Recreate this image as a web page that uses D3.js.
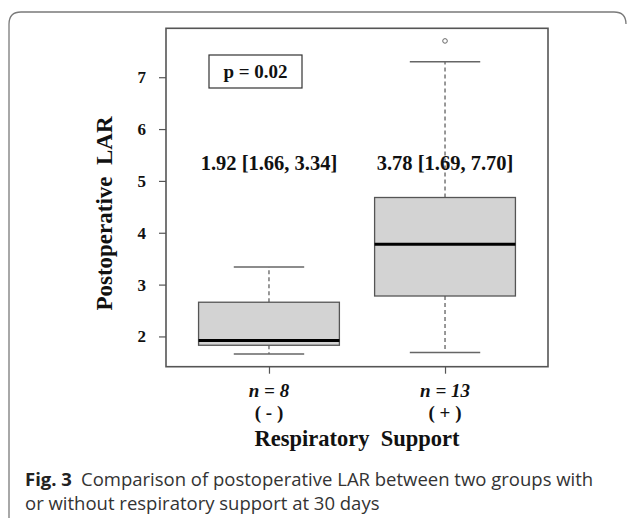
<!DOCTYPE html>
<html>
<head>
<meta charset="utf-8">
<script src="https://cdn.jsdelivr.net/npm/d3@7"></script>
<style>
  body { margin: 0; background: #fff; }
  svg { display: block; }
</style>
</head>
<body>
<div id="chart"></div>
<script>
// group data
const groups = ['(-)', '(+)'];
const groupLabels = ['( - )', '( + )'];
const nLabels = ['n = 8', 'n = 13'];
const lowWhisker = [1.66, 1.69];
const q1 = [1.83, 2.78];
const median = [1.92, 3.78];
const q3 = [2.66, 4.68];
const highWhisker = [3.34, 7.30];
const outliers = [[], [7.70]];
const statText = ['1.92 [1.66, 3.34]', '3.78 [1.69, 7.70]'];
const yTicks = [2, 3, 4, 5, 6, 7];

const width = 627, height = 523;
const plot = { left: 166, right: 548, top: 28.3, bottom: 366.7 };

const svg = d3.select('#chart').append('svg')
  .attr('width', width)
  .attr('height', height);

// card frame
svg.append('path')
  .attr('d', 'M9,' + (height - 5) + ' L9,24 Q9,12 21,12 L614,12 Q626,12 626,24')
  .attr('fill', 'none')
  .attr('stroke', '#7a7a7a')
  .attr('stroke-width', 1.3);

const x = d3.scaleLinear().domain([0.415, 2.585]).range([plot.left, plot.right]);
const y = d3.scaleLinear().domain([1.4164, 7.9436]).range([plot.bottom, plot.top]);

const serif = '"Liberation Serif", "Times New Roman", serif';

// y axis ticks
const yAxis = svg.append('g')
  .attr('transform', 'translate(' + plot.left + ',0)')
  .call(d3.axisLeft(y).tickValues(yTicks).tickSize(7).tickFormat(''));
yAxis.select('.domain').remove();
yAxis.selectAll('line').attr('stroke', '#555').attr('stroke-width', 1.2);

// y tick labels
svg.selectAll('.ylab')
  .data(yTicks)
  .enter().append('text')
  .attr('class', 'ylab')
  .attr('x', 146)
  .attr('y', d => y(d) + 6)
  .attr('text-anchor', 'end')
  .style('font-family', serif).style('font-weight', 'bold').style('font-size', '17px')
  .attr('fill', '#111')
  .text(d => d);

// x axis ticks
const xAxis = svg.append('g')
  .attr('transform', 'translate(0,' + plot.bottom + ')')
  .call(d3.axisBottom(x).tickValues([1, 2]).tickSize(7).tickFormat(''));
xAxis.select('.domain').remove();
xAxis.selectAll('line').attr('stroke', '#555').attr('stroke-width', 1.2);

// plot frame
svg.append('rect')
  .attr('x', plot.left)
  .attr('y', plot.top)
  .attr('width', plot.right - plot.left)
  .attr('height', plot.bottom - plot.top)
  .attr('fill', 'none')
  .attr('stroke', '#555')
  .attr('stroke-width', 1.6);

const boxW = x(1.4) - x(1);

groups.forEach(function (g, i) {
  const cx = x(i + 1);
  const grp = svg.append('g');

  // whiskers
  grp.append('line')
    .attr('x1', cx).attr('x2', cx)
    .attr('y1', y(q3[i])).attr('y2', y(highWhisker[i]))
    .attr('stroke', '#555').attr('stroke-width', 1.2)
    .attr('stroke-dasharray', '4,3');
  grp.append('line')
    .attr('x1', cx).attr('x2', cx)
    .attr('y1', y(q1[i])).attr('y2', y(lowWhisker[i]))
    .attr('stroke', '#555').attr('stroke-width', 1.2)
    .attr('stroke-dasharray', '4,3');

  [lowWhisker[i], highWhisker[i]].forEach(function (v) {
    grp.append('line')
      .attr('x1', cx - boxW / 2).attr('x2', cx + boxW / 2)
      .attr('y1', y(v)).attr('y2', y(v))
      .attr('stroke', '#666').attr('stroke-width', 1.5);
  });

  // box
  grp.append('rect')
    .attr('x', cx - boxW)
    .attr('y', y(q3[i]))
    .attr('width', boxW * 2)
    .attr('height', y(q1[i]) - y(q3[i]))
    .attr('fill', '#d3d3d3')
    .attr('stroke', '#555')
    .attr('stroke-width', 1.3);

  grp.append('line')
    .attr('x1', cx - boxW).attr('x2', cx + boxW)
    .attr('y1', y(median[i])).attr('y2', y(median[i]))
    .attr('stroke', '#000').attr('stroke-width', 3);

  outliers[i].forEach(function (v) {
    grp.append('circle')
      .attr('cx', cx).attr('cy', y(v)).attr('r', 2.3)
      .attr('fill', 'none').attr('stroke', '#666').attr('stroke-width', 1);
  });

  // stats text
  svg.append('text')
    .attr('x', cx).attr('y', 170)
    .attr('text-anchor', 'middle')
    .style('font-family', serif).style('font-weight', 'bold').style('font-size', '20.5px')
    .attr('fill', '#111')
    .text(statText[i]);

  // n labels
  svg.append('text')
    .attr('x', cx).attr('y', 397)
    .attr('text-anchor', 'middle')
    .style('font-family', serif).style('font-weight', 'bold').style('font-style', 'italic')
    .style('font-size', '19px')
    .attr('fill', '#111')
    .text(nLabels[i]);

  svg.append('text')
    .attr('x', cx).attr('y', 419)
    .attr('text-anchor', 'middle')
    .style('font-family', serif).style('font-weight', 'bold').style('font-size', '19px')
    .attr('fill', '#111')
    .text(groupLabels[i]);
});

// p value box
svg.append('rect')
  .attr('x', 209).attr('y', 55)
  .attr('width', 93).attr('height', 33)
  .attr('fill', 'none').attr('stroke', '#333').attr('stroke-width', 1.2);
svg.append('text')
  .attr('x', 255.5).attr('y', 78)
  .attr('text-anchor', 'middle')
  .style('font-family', serif).style('font-weight', 'bold').style('font-size', '19px')
  .attr('fill', '#111')
  .text('p = 0.02');

// axis titles
svg.append('text')
  .attr('transform', 'translate(112,' + ((plot.top + plot.bottom) / 2 + 16) + ') rotate(-90)')
  .attr('text-anchor', 'middle')
  .style('font-family', serif).style('font-weight', 'bold').style('font-size', '23px')
  .attr('fill', '#111')
  .text('Postoperative\u00a0\u00a0LAR');

svg.append('text')
  .attr('x', (plot.left + plot.right) / 2).attr('y', 446)
  .attr('text-anchor', 'middle')
  .style('font-family', serif).style('font-weight', 'bold').style('font-size', '22.5px')
  .attr('fill', '#111')
  .text('Respiratory\u00a0\u00a0Support');

// caption
const capFont = '"Open Sans", "Noto Sans", sans-serif';
svg.append('text')
  .attr('x', 25).attr('y', 486)
  .style('font-family', capFont).style('font-size', '18.5px').style('font-weight', 'bold')
  .attr('fill', '#222')
  .text('Fig. 3');
svg.append('text')
  .attr('x', 81).attr('y', 486)
  .style('font-family', capFont).style('font-size', '18.5px')
  .attr('fill', '#333')
  .text('Comparison of postoperative LAR between two groups with');
svg.append('text')
  .attr('x', 25).attr('y', 510)
  .style('font-family', capFont).style('font-size', '18.5px')
  .attr('fill', '#333')
  .text('or without respiratory support at 30 days');
</script>
</body>
</html>
